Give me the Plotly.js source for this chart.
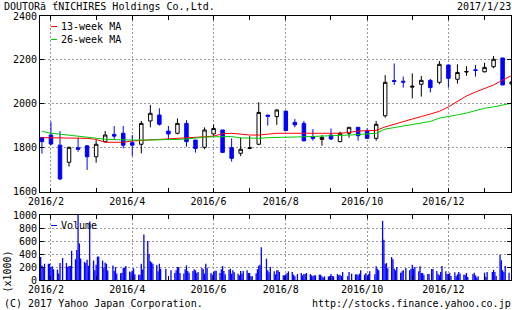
<!DOCTYPE html>
<html>
<head>
<meta charset="utf-8">
<script src="https://cdn.plot.ly/plotly-3.0.1.min.js"></script>
<style>
  html, body { margin: 0; padding: 0; background: #fff; }
  #chart { width: 512px; height: 310px; }
</style>
</head>
<body>
<div id="chart"></div>
<script>
// ---- data (weekly candles, daily volume) ----
const weeks = ['2016-01-25','2016-02-01','2016-02-08','2016-02-15','2016-02-22','2016-02-29','2016-03-07','2016-03-14','2016-03-21','2016-03-28','2016-04-04','2016-04-11','2016-04-18','2016-04-25','2016-05-02','2016-05-09','2016-05-16','2016-05-23','2016-05-30','2016-06-06','2016-06-13','2016-06-20','2016-06-27','2016-07-04','2016-07-11','2016-07-18','2016-07-25','2016-08-01','2016-08-08','2016-08-15','2016-08-22','2016-08-29','2016-09-05','2016-09-12','2016-09-19','2016-09-26','2016-10-03','2016-10-10','2016-10-17','2016-10-24','2016-10-31','2016-11-07','2016-11-14','2016-11-21','2016-11-28','2016-12-05','2016-12-12','2016-12-19','2016-12-26','2017-01-02','2017-01-09','2017-01-16','2017-01-23'];

const open  = [1846,1858,1812,1734,1800,1809,1759,1828,1861,1866,1823,1816,1922,1949,1876,1866,1911,1835,1802,1863,1881,1800,1775,1797,1816,1949,1942,1967,1916,1911,1850,1838,1858,1828,1866,1893,1876,1843,1946,2106,2103,2076,2089,2107,2098,2177,2112,2145,2155,2146,2169,2209,2090];
const high  = [1846,1919,1876,1805,1846,1812,1835,1876,1899,1899,1858,1922,1995,1980,1899,1934,1926,1835,1893,1907,1881,1843,1846,1853,2007,1949,1976,1967,1931,1922,1885,1858,1888,1873,1893,1893,1888,1922,2131,2184,2124,2139,2127,2113,2195,2177,2180,2172,2177,2187,2218,2209,2102];
const low   = [1773,1812,1653,1714,1782,1699,1732,1825,1838,1797,1762,1775,1893,1901,1840,1861,1805,1778,1793,1855,1779,1737,1762,1793,1812,1901,1904,1878,1893,1828,1832,1809,1835,1825,1846,1832,1840,1832,1937,2086,2074,2025,2033,2052,2089,2074,2092,2128,2124,2143,2162,2086,2088];
const close = [1828,1817,1658,1802,1793,1759,1816,1858,1853,1812,1812,1911,1957,1907,1863,1911,1828,1797,1881,1888,1779,1752,1793,1800,1961,1943,1972,1878,1904,1832,1843,1847,1840,1866,1893,1855,1843,1907,2098,2102,2099,2080,2107,2074,2180,2116,2143,2147,2152,2166,2203,2086,2100];

const ma13 = [1846,1846,1846,1846,1843,1843,1838,1825,1825,1825,1831,1833,1835,1838,1840,1842,1845,1848,1850,1853,1864,1866,1862,1858,1858,1863,1866,1866,1866,1866,1864,1864,1864,1866,1870,1876,1878,1879,1895,1908,1920,1931,1942,1954,1966,1986,2013,2036,2054,2070,2086,2108,2129];
const ma26 = [1875,1866,1862,1857,1852,1847,1843,1839,1837,1835,1835,1835,1835,1836,1838,1838,1840,1845,1848,1850,1851,1851,1845,1843,1843,1846,1846,1847,1849,1850,1851,1853,1855,1856,1858,1860,1862,1866,1885,1892,1897,1904,1912,1920,1935,1941,1950,1958,1970,1980,1986,1995,2003];

// daily volume (x1000 shares), Mon..Fri for each week; null = market holiday
const volumeByWeek = [
  [340,355,225,200,250],[250,250,200,210,165],[160,100,260,null,338],[260,200,215,215,450],
  [320,460,1000,560,330],[280,260,310,220,900],[300,150,235,360,360],[300,190,265,250,145],
  [null,225,140,200,100],[105,110,190,190,215],[130,120,145,180,90],[80,80,250,160,700],
  [600,400,290,270,250],[230,135,250,175,null],[175,null,null,null,150],[108,149,200,200,108],
  [100,165,225,140,110],[139,164,149,108,123],[185,164,97,251,190],[108,82,123,144,144],
  [108,164,215,139,90],[159,174,97,149,120],[97,72,139,97,139],[149,108,108,56,56],
  [104,166,218,234,504],[null,328,149,120,200],[133,87,149,149,123],[72,72,90,108,133],
  [123,82,56,null,92],[108,72,92,92,108],[92,72,56,72,72],[82,82,56,40,56],
  [56,56,92,62,56],[92,72,82,60,123],[null,62,123,null,97],[87,87,72,97,149],
  [82,108,72,90,133],[null,87,210,174,149],[910,620,250,260,180],[354,318,174,149,200],
  [110,133,149,null,185],[149,174,236,174,200],[133,210,108,108,82],[92,92,null,169,169],
  [139,92,72,123,215],[133,92,92,110,60],[118,56,87,123,100],[82,82,108,46,null],
  [92,113,72,40,56],[null,null,113,51,123],[null,123,154,123,60],[390,303,149,123,215],
  [113]
];

const tickDates  = ['2016-02-03','2016-04-06','2016-06-08','2016-08-03','2016-10-05','2016-12-07'];
const tickLabels = ['2016/2','2016/4','2016/6','2016/8','2016/10','2016/12'];
const minorTickDates = ['2016-03-09','2016-05-04','2016-07-06','2016-09-07','2016-11-09','2017-01-04'];

const priceTicks  = [1600,1800,2000,2200,2400];
const volumeTicks = [0,200,400,600,800,1000];

const titleText = 'DOUTORã ťNICHIRES Holdings Co.,Ltd.';
const dateText  = '2017/1/23';

// ---- helpers ----
function addDays(s, n) {
  const d = new Date(s + 'T00:00:00Z');
  d.setUTCDate(d.getUTCDate() + n);
  return d.toISOString().slice(0, 10);
}
const candleX = weeks.map(w => addDays(w, 2));   // mid trading week
const volX = [], volY = [];
volumeByWeek.forEach((arr, i) => {
  arr.forEach((v, k) => {
    if (v !== null) { volX.push(addDays(weeks[i], k)); volY.push(v); }
  });
});

// pixel -> paper helpers (plot area: x 40..511, y 16..280)
const L = 40, W = 471, T = 16, B = 280, H = B - T;
const px = x => (x - L) / W;
const py = y => (B - y) / H;

const FONT = 'DejaVu Sans Mono, monospace';
const grid = '#999999';

const traces = [
  {
    type: 'candlestick', x: candleX, open: open, high: high, low: low, close: close,
    xaxis: 'x', yaxis: 'y', hoverinfo: 'skip',
    increasing: { line: { color: '#000000', width: 1 }, fillcolor: '#ffffff' },
    decreasing: { line: { color: '#0000ff', width: 1 }, fillcolor: '#0000ff' }
  },
  { type: 'scatter', mode: 'lines', x: candleX, y: ma13, xaxis: 'x', yaxis: 'y',
    line: { color: '#ff0000', width: 1 }, hoverinfo: 'skip' },
  { type: 'scatter', mode: 'lines', x: candleX, y: ma26, xaxis: 'x', yaxis: 'y',
    line: { color: '#00cc00', width: 1 }, hoverinfo: 'skip' },
  { type: 'bar', x: volX, y: volY, xaxis: 'x2', yaxis: 'y2', width: 86400000,
    marker: { color: '#0000ff', line: { width: 0 } }, hoverinfo: 'skip' }
];

const xCommon = {
  type: 'date', range: ['2016-01-25 12:00', '2017-01-24 12:00'],
  tickmode: 'array', tickvals: tickDates, ticktext: tickLabels,
  ticks: 'inside', ticklen: 4, tickcolor: '#000', tickwidth: 1,
  showline: true, linecolor: '#000', linewidth: 1, mirror: 'ticks',
  showgrid: true, gridcolor: grid, gridwidth: 1, griddash: '2px,2px',
  zeroline: false, ticklabelshift: -5, fixedrange: true,
  tickfont: { family: FONT, size: 10, color: '#000' },
  minor: { tickmode: 'array', tickvals: minorTickDates, ticks: 'inside', ticklen: 4,
           tickcolor: '#000', tickwidth: 1, showgrid: false }
};
const yCommon = {
  ticks: 'inside', ticklen: 4, tickcolor: '#000', tickwidth: 1,
  showline: true, linecolor: '#000', linewidth: 1, mirror: 'ticks',
  showgrid: true, gridcolor: grid, gridwidth: 1, griddash: '2px,2px',
  zeroline: false, fixedrange: true, tickmode: 'array',
  tickfont: { family: FONT, size: 10, color: '#000' }
};

const shapes = [
  { type: 'line', xref: 'paper', yref: 'paper', x0: px(51), x1: px(57), y0: py(26.5), y1: py(26.5), line: { color: '#ff0000', width: 1 } },
  { type: 'line', xref: 'paper', yref: 'paper', x0: px(51), x1: px(57), y0: py(39.5), y1: py(39.5), line: { color: '#00cc00', width: 1 } },
  { type: 'line', xref: 'paper', yref: 'paper', x0: px(51), x1: px(57), y0: py(225.5), y1: py(225.5), line: { color: '#0000ff', width: 1 } }
];

function ann(text, x, y, xanchor, extra) {
  return Object.assign({ text: text, xref: 'paper', yref: 'paper', x: px(x), y: py(y),
    xanchor: xanchor, yanchor: 'middle', showarrow: false, borderpad: 0,
    font: { family: FONT, size: 10, color: '#000' } }, extra || {});
}

const annotations = [
  ann(titleText, 3, 6.5, 'left'),
  ann(dateText, 512, 6.5, 'right'),
  ann('13-week MA', 60, 26.5, 'left'),
  ann('26-week MA', 60, 39.5, 'left'),
  ann('Volume', 60, 225.5, 'left'),
  ann('(x1000)', 6.5, 272, 'center', { textangle: -90 }),
  ann('(C) 2017 Yahoo Japan Corporation.', 3, 303, 'left'),
  ann('http://stocks.finance.yahoo.co.jp', 512, 303, 'right')
];

const layout = {
  width: 512, height: 310,
  margin: { l: L, r: 512 - L - W, t: T, b: 310 - B, pad: 0 },
  paper_bgcolor: '#ffffff', plot_bgcolor: '#ffffff',
  font: { family: FONT, size: 10, color: '#000' },
  showlegend: false, boxgap: 0.45,
  xaxis: Object.assign({}, xCommon, { anchor: 'y', domain: [0, 1], rangeslider: { visible: false } }),
  xaxis2: Object.assign({}, xCommon, { anchor: 'y2', domain: [0, 1], matches: 'x' }),
  yaxis: Object.assign({}, yCommon, { anchor: 'x', domain: [py(191.7), 1], range: [1600, 2400], tickvals: priceTicks }),
  yaxis2: Object.assign({}, yCommon, { anchor: 'x2', domain: [0, py(215)], range: [0, 1000], tickvals: volumeTicks }),
  shapes: shapes,
  annotations: annotations
};

Plotly.newPlot('chart', traces, layout, { staticPlot: true, displayModeBar: false });
</script>
</body>
</html>
